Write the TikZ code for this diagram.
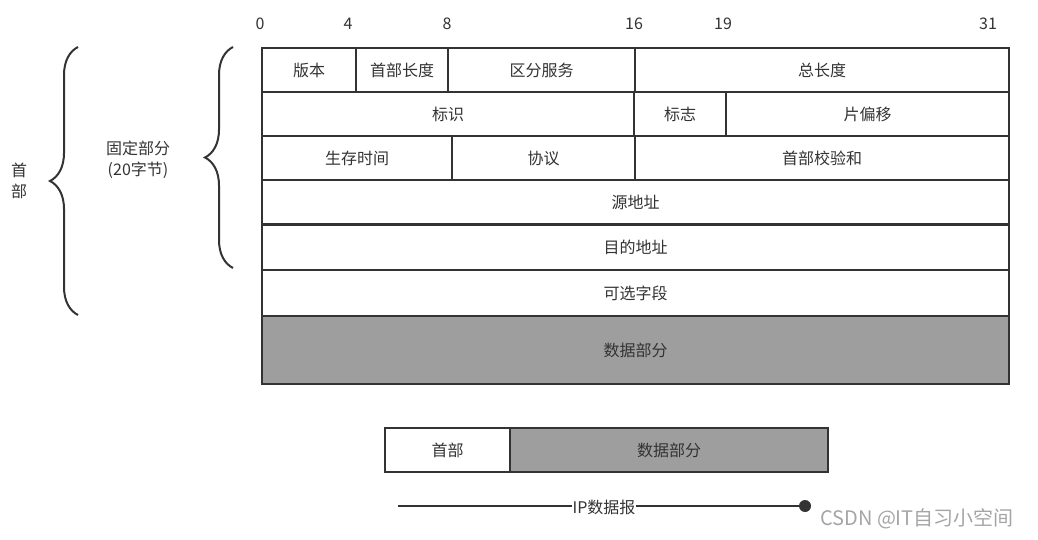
\documentclass[tikz,border=0pt]{standalone}
\usepackage{fontspec}
\setmainfont{Noto Sans CJK SC}
\usepackage{tikz}
\usetikzlibrary{positioning,decorations.pathreplacing}
\definecolor{frameline}{RGB}{51,51,51}
\definecolor{datagray}{RGB}{158,158,158}
\definecolor{marktext}{RGB}{165,165,165}
\newcommand{\diagramfont}{\fontsize{16}{21}\selectfont}
\tikzset{
  field/.style={draw=frameline, line width=2.2pt, fill=white, anchor=north west,
    inner sep=0pt, minimum height=44pt, text=frameline, font=\diagramfont},
  datafield/.style={field, fill=datagray},
  bitmark/.style={font=\diagramfont, text=frameline, inner sep=0pt},
  bracelabel/.style={font=\diagramfont, text=frameline, align=center, inner sep=0pt},
  hdrbrace/.style={draw=frameline, line width=2pt, decorate,
    decoration={brace, amplitude=28pt}},
  spanline/.style={draw=frameline, line width=2pt},
  enddot/.style={circle, fill=frameline, inner sep=0pt, minimum size=12pt}
}
\begin{document}
\begin{tikzpicture}[x=1pt, y=-1pt]
  \useasboundingbox (0,0) rectangle (1038,540);
  % bit positions
  \node[bitmark] (b0)  at (260,24) {0};
  \node[bitmark] (b4)  at (348,24) {4};
  \node[bitmark] (b8)  at (447,24) {8};
  \node[bitmark] (b16) at (634,24) {16};
  \node[bitmark] (b19) at (723,24) {19};
  \node[bitmark] (b31) at (988,24) {31};
  % fixed header rows
  \node[field, minimum width=94pt]  (ver)   at (261,47) {版本};
  \node[field, minimum width=92pt]  (ihl)   at (355,47) {首部长度};
  \node[field, minimum width=187pt] (tos)   at (447,47) {区分服务};
  \node[field, minimum width=374pt] (tlen)  at (634,47) {总长度};
  \node[field, minimum width=372pt] (ident) at (261,91) {标识};
  \node[field, minimum width=92pt]  (flags) at (633,91) {标志};
  \node[field, minimum width=283pt] (frag)  at (725,91) {片偏移};
  \node[field, minimum width=190pt] (ttl)   at (261,135) {生存时间};
  \node[field, minimum width=183pt] (proto) at (451,135) {协议};
  \node[field, minimum width=374pt] (csum)  at (634,135) {首部校验和};
  \node[field, minimum width=747pt] (src)   at (261,179) {源地址};
  \node[field, minimum width=747pt, minimum height=45pt] (dst) at (261,224) {目的地址};
  \node[field, minimum width=747pt, minimum height=46pt] (opt) at (261,269) {可选字段};
  \node[datafield, minimum width=747pt, minimum height=68pt] (data) at (261,315) {数据部分};
  % braces
  \coordinate (outerTop) at (78,47);
  \coordinate (outerBot) at (78,315);
  \coordinate (innerTop) at (233,47);
  \coordinate (innerBot) at (233,268);
  \draw[hdrbrace] (outerBot) -- (outerTop);
  \draw[hdrbrace] (innerBot) -- (innerTop);
  \node[bracelabel] (hdrlbl) at (19,181) {首\\部};
  \node[bracelabel] (fixlbl) at (138,160) {固定部分\\(20字节)};
  % whole datagram
  \node[field, minimum width=125pt] (shdr)  at (384,427) {首部};
  \node[datafield, minimum width=318pt] (sdata) at (509,427) {数据部分};
  \coordinate (ipL) at (398,506);
  \node[enddot] (ipR) at (805,506) {};
  \draw[spanline] (ipL) -- (ipR.center);
  \node[bracelabel, fill=white, inner sep=1pt] (iplbl) at (604,507) {IP数据报};
  \node[font=\fontsize{20}{22}\selectfont, text=marktext, inner sep=0pt] (mark) at (917,519) {CSDN @IT自习小空间};
\end{tikzpicture}
\end{document}
